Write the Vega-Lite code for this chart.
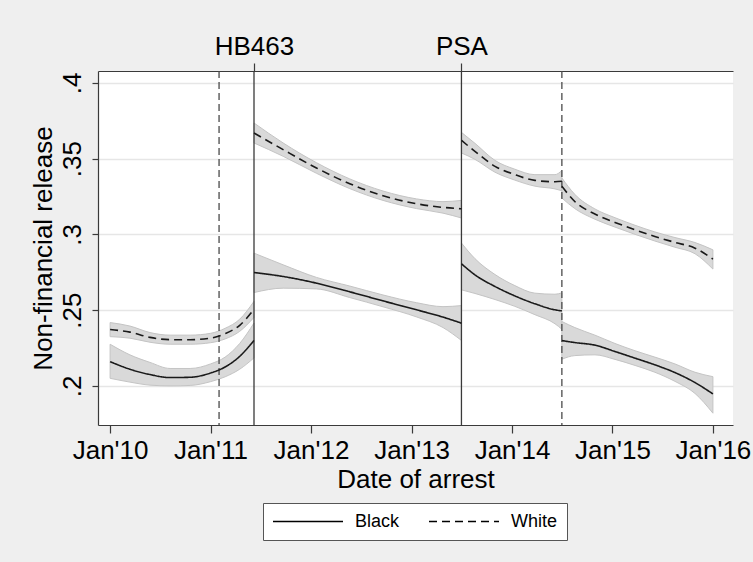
{
  "$schema": "https://vega.github.io/schema/vega-lite/v6.json",
  "width": 635,
  "height": 354,
  "autosize": {"type": "none"},
  "padding": {"left": 98, "top": 71, "right": 20, "bottom": 137},
  "background": "#efefef",
  "config": {
    "view": {"fill": "white", "stroke": null},
    "font": "Liberation Sans",
    "axis": {"labelFont": "Liberation Sans", "titleFont": "Liberation Sans", "labelColor": "black", "titleColor": "black", "titleFontWeight": "normal", "domainColor": "#3a3a3a", "tickColor": "#3a3a3a", "domainWidth": 1.2, "tickWidth": 1.2},
    "legend": {"labelFont": "Liberation Sans"}
  },
  "datasets": {
    "fit": [
      {"date": "2010-01-01", "race": "Black", "seg": 1, "v": 0.216, "lo": 0.205, "hi": 0.2275},
      {"date": "2010-03-14", "race": "Black", "seg": 1, "v": 0.211, "lo": 0.2025, "hi": 0.2205},
      {"date": "2010-05-26", "race": "Black", "seg": 1, "v": 0.2075, "lo": 0.2005, "hi": 0.2155},
      {"date": "2010-08-07", "race": "Black", "seg": 1, "v": 0.2055, "lo": 0.2, "hi": 0.2115},
      {"date": "2010-10-19", "race": "Black", "seg": 1, "v": 0.2057, "lo": 0.2003, "hi": 0.2115},
      {"date": "2011-01-01", "race": "Black", "seg": 1, "v": 0.2085, "lo": 0.2028, "hi": 0.2145},
      {"date": "2011-02-23", "race": "Black", "seg": 1, "v": 0.2125, "lo": 0.206, "hi": 0.219},
      {"date": "2011-04-17", "race": "Black", "seg": 1, "v": 0.2195, "lo": 0.211, "hi": 0.228},
      {"date": "2011-06-08", "race": "Black", "seg": 1, "v": 0.23, "lo": 0.2185, "hi": 0.2415},
      {"date": "2011-06-08", "race": "Black", "seg": 2, "v": 0.2748, "lo": 0.2616, "hi": 0.2876},
      {"date": "2011-09-22", "race": "Black", "seg": 2, "v": 0.2722, "lo": 0.2645, "hi": 0.2799},
      {"date": "2012-01-21", "race": "Black", "seg": 2, "v": 0.2678, "lo": 0.264, "hi": 0.2716},
      {"date": "2012-05-21", "race": "Black", "seg": 2, "v": 0.2621, "lo": 0.2583, "hi": 0.2659},
      {"date": "2012-09-19", "race": "Black", "seg": 2, "v": 0.2561, "lo": 0.2522, "hi": 0.26},
      {"date": "2013-01-19", "race": "Black", "seg": 2, "v": 0.2502, "lo": 0.2455, "hi": 0.2549},
      {"date": "2013-04-25", "race": "Black", "seg": 2, "v": 0.2454, "lo": 0.2385, "hi": 0.2523},
      {"date": "2013-07-01", "race": "Black", "seg": 2, "v": 0.2414, "lo": 0.23, "hi": 0.253},
      {"date": "2013-07-01", "race": "Black", "seg": 3, "v": 0.2806, "lo": 0.2634, "hi": 0.2943},
      {"date": "2013-08-19", "race": "Black", "seg": 3, "v": 0.2733, "lo": 0.261, "hi": 0.284},
      {"date": "2013-10-31", "race": "Black", "seg": 3, "v": 0.2656, "lo": 0.257, "hi": 0.2735},
      {"date": "2014-01-11", "race": "Black", "seg": 3, "v": 0.2594, "lo": 0.2525, "hi": 0.2662},
      {"date": "2014-03-25", "race": "Black", "seg": 3, "v": 0.2542, "lo": 0.247, "hi": 0.2612},
      {"date": "2014-06-06", "race": "Black", "seg": 3, "v": 0.2502, "lo": 0.241, "hi": 0.2605},
      {"date": "2014-07-01", "race": "Black", "seg": 3, "v": 0.2495, "lo": 0.2374, "hi": 0.2614},
      {"date": "2014-07-01", "race": "Black", "seg": 4, "v": 0.2299, "lo": 0.2176, "hi": 0.2425},
      {"date": "2014-08-17", "race": "Black", "seg": 4, "v": 0.2286, "lo": 0.22, "hi": 0.2385},
      {"date": "2014-10-29", "race": "Black", "seg": 4, "v": 0.2269, "lo": 0.2205, "hi": 0.2335},
      {"date": "2015-01-10", "race": "Black", "seg": 4, "v": 0.2227, "lo": 0.2175, "hi": 0.228},
      {"date": "2015-03-24", "race": "Black", "seg": 4, "v": 0.2183, "lo": 0.2135, "hi": 0.2232},
      {"date": "2015-06-04", "race": "Black", "seg": 4, "v": 0.2139, "lo": 0.209, "hi": 0.219},
      {"date": "2015-08-16", "race": "Black", "seg": 4, "v": 0.2088, "lo": 0.203, "hi": 0.2145},
      {"date": "2015-10-28", "race": "Black", "seg": 4, "v": 0.2022, "lo": 0.195, "hi": 0.209},
      {"date": "2016-01-01", "race": "Black", "seg": 4, "v": 0.1947, "lo": 0.182, "hi": 0.2061},
      {"date": "2010-01-01", "race": "White", "seg": 1, "v": 0.2372, "lo": 0.2325, "hi": 0.2418},
      {"date": "2010-03-14", "race": "White", "seg": 1, "v": 0.2355, "lo": 0.2315, "hi": 0.2395},
      {"date": "2010-05-26", "race": "White", "seg": 1, "v": 0.232, "lo": 0.2288, "hi": 0.2352},
      {"date": "2010-08-07", "race": "White", "seg": 1, "v": 0.2305, "lo": 0.2275, "hi": 0.2335},
      {"date": "2010-10-19", "race": "White", "seg": 1, "v": 0.2305, "lo": 0.2275, "hi": 0.2335},
      {"date": "2011-01-01", "race": "White", "seg": 1, "v": 0.2315, "lo": 0.2285, "hi": 0.2347},
      {"date": "2011-02-23", "race": "White", "seg": 1, "v": 0.2345, "lo": 0.231, "hi": 0.238},
      {"date": "2011-04-17", "race": "White", "seg": 1, "v": 0.24, "lo": 0.236, "hi": 0.244},
      {"date": "2011-06-08", "race": "White", "seg": 1, "v": 0.2505, "lo": 0.2452, "hi": 0.2558},
      {"date": "2011-06-08", "race": "White", "seg": 2, "v": 0.3669, "lo": 0.3603, "hi": 0.3735},
      {"date": "2011-09-22", "race": "White", "seg": 2, "v": 0.3559, "lo": 0.3515, "hi": 0.3603},
      {"date": "2012-01-21", "race": "White", "seg": 2, "v": 0.3438, "lo": 0.3403, "hi": 0.3473},
      {"date": "2012-05-21", "race": "White", "seg": 2, "v": 0.3334, "lo": 0.3302, "hi": 0.3366},
      {"date": "2012-09-19", "race": "White", "seg": 2, "v": 0.3255, "lo": 0.3224, "hi": 0.3286},
      {"date": "2013-01-19", "race": "White", "seg": 2, "v": 0.3202, "lo": 0.317, "hi": 0.3234},
      {"date": "2013-04-25", "race": "White", "seg": 2, "v": 0.3178, "lo": 0.314, "hi": 0.3216},
      {"date": "2013-07-01", "race": "White", "seg": 2, "v": 0.3169, "lo": 0.3108, "hi": 0.3224},
      {"date": "2013-07-01", "race": "White", "seg": 3, "v": 0.362, "lo": 0.3537, "hi": 0.3673},
      {"date": "2013-08-19", "race": "White", "seg": 3, "v": 0.3548, "lo": 0.3495, "hi": 0.3601},
      {"date": "2013-10-31", "race": "White", "seg": 3, "v": 0.3449, "lo": 0.341, "hi": 0.3488},
      {"date": "2014-01-11", "race": "White", "seg": 3, "v": 0.3394, "lo": 0.3358, "hi": 0.343},
      {"date": "2014-03-25", "race": "White", "seg": 3, "v": 0.3356, "lo": 0.3318, "hi": 0.3394},
      {"date": "2014-06-06", "race": "White", "seg": 3, "v": 0.3347, "lo": 0.33, "hi": 0.3394},
      {"date": "2014-07-01", "race": "White", "seg": 3, "v": 0.335, "lo": 0.3288, "hi": 0.3422},
      {"date": "2014-07-01", "race": "White", "seg": 4, "v": 0.3317, "lo": 0.324, "hi": 0.3372},
      {"date": "2014-08-17", "race": "White", "seg": 4, "v": 0.3217, "lo": 0.317, "hi": 0.3264},
      {"date": "2014-10-29", "race": "White", "seg": 4, "v": 0.3134, "lo": 0.31, "hi": 0.3168},
      {"date": "2015-01-10", "race": "White", "seg": 4, "v": 0.3079, "lo": 0.3048, "hi": 0.311},
      {"date": "2015-03-24", "race": "White", "seg": 4, "v": 0.303, "lo": 0.3, "hi": 0.306},
      {"date": "2015-06-04", "race": "White", "seg": 4, "v": 0.2986, "lo": 0.2956, "hi": 0.3016},
      {"date": "2015-08-16", "race": "White", "seg": 4, "v": 0.2947, "lo": 0.2915, "hi": 0.2979},
      {"date": "2015-10-28", "race": "White", "seg": 4, "v": 0.2909, "lo": 0.2872, "hi": 0.2946},
      {"date": "2016-01-01", "race": "White", "seg": 4, "v": 0.2837, "lo": 0.2771, "hi": 0.2898}
    ],
    "events": [
      {"date": "2011-06-08", "kind": "solid", "label": "HB463"},
      {"date": "2013-07-01", "kind": "solid", "label": "PSA"},
      {"date": "2011-02-01", "kind": "dashed", "label": ""},
      {"date": "2014-07-01", "kind": "dashed", "label": ""}
    ]
  },
  "resolve": {"axis": {"x": "independent"}},
  "layer": [
    {
      "data": {"name": "fit"},
      "mark": {"type": "area", "fill": "#d9d9d9", "stroke": "#c4c4c4", "strokeWidth": 1, "opacity": 1, "interpolate": "monotone"},
      "encoding": {
        "x": {
          "field": "date", "type": "temporal",
          "scale": {"type": "utc", "domain": [{"year": 2009, "month": 11, "date": 18, "utc": true}, {"year": 2016, "month": 3, "date": 14, "utc": true}], "nice": false},
          "axis": {
            "orient": "bottom",
            "values": [
              {"year": 2010, "month": 1, "date": 1, "utc": true},
              {"year": 2011, "month": 1, "date": 1, "utc": true},
              {"year": 2012, "month": 1, "date": 1, "utc": true},
              {"year": 2013, "month": 1, "date": 1, "utc": true},
              {"year": 2014, "month": 1, "date": 1, "utc": true},
              {"year": 2015, "month": 1, "date": 1, "utc": true},
              {"year": 2016, "month": 1, "date": 1, "utc": true}
            ],
            "format": "%b'%y",
            "grid": false,
            "tickSize": 8,
            "labelFontSize": 26,
            "labelPadding": 4,
            "labelFlush": false,
            "labelOverlap": false,
            "title": "Date of arrest",
            "titleFontSize": 26,
            "titlePadding": 3
          }
        },
        "y": {
          "field": "lo", "type": "quantitative",
          "scale": {"domain": [0.1742, 0.4078], "nice": false, "zero": false},
          "axis": {
            "values": [0.2, 0.25, 0.3, 0.35, 0.4],
            "labelExpr": "replace(format(datum.value, '.2~f'), '0.', '.')",
            "labelAngle": -90,
            "labelAlign": "center",
            "labelBaseline": "bottom",
            "labelFontSize": 26,
            "labelPadding": 7,
            "tickSize": 6,
            "grid": true,
            "gridColor": "#e6e6e6",
            "gridWidth": 1.5,
            "title": "Non-financial release",
            "titleFontSize": 26,
            "titlePadding": 3
          }
        },
        "y2": {"field": "hi"},
        "detail": [{"field": "race"}, {"field": "seg"}]
      }
    },
    {
      "data": {"name": "events"},
      "transform": [{"filter": "datum.kind == 'dashed'"}],
      "mark": {"type": "rule", "color": "#4a4a4a", "strokeWidth": 1.3, "strokeDash": [7, 4]},
      "encoding": {
        "x": {"field": "date", "type": "temporal", "axis": null}
      }
    },
    {
      "data": {"name": "events"},
      "transform": [{"filter": "datum.kind == 'solid'"}],
      "mark": {"type": "rule", "color": "#3a3a3a", "strokeWidth": 1.3},
      "encoding": {
        "x": {
          "field": "date", "type": "temporal",
          "axis": {
            "orient": "top",
            "values": [
              {"year": 2011, "month": 6, "date": 8, "utc": true},
              {"year": 2013, "month": 7, "date": 1, "utc": true}
            ],
            "labelExpr": "utcyear(datum.value) == 2011 ? 'HB463' : 'PSA'",
            "labelFontSize": 26,
            "labelPadding": 4,
            "tickSize": 8,
            "grid": false,
            "labelFlush": false,
            "title": null
          }
        }
      }
    },
    {
      "data": {"name": "fit"},
      "mark": {"type": "line", "color": "#1a1a1a", "strokeWidth": 1.6, "interpolate": "monotone"},
      "encoding": {
        "x": {"field": "date", "type": "temporal", "axis": null},
        "y": {"field": "v", "type": "quantitative"},
        "detail": {"field": "seg"},
        "strokeDash": {
          "field": "race", "type": "nominal",
          "scale": {"domain": ["Black", "White"], "range": [[1, 0], [8, 5]]},
          "legend": {
            "orient": "none",
            "legendX": 165,
            "legendY": 432,
            "direction": "horizontal",
            "title": null,
            "symbolType": "stroke",
            "symbolSize": 4900,
            "clipHeight": 19,
            "symbolStrokeWidth": 1.5,
            "symbolStrokeColor": "black",
            "labelFontSize": 18,
            "labelOffset": 11,
            "columnPadding": 28,
            "padding": 9,
            "fillColor": "white",
            "strokeColor": "#555555"
          }
        }
      }
    }
  ]
}
